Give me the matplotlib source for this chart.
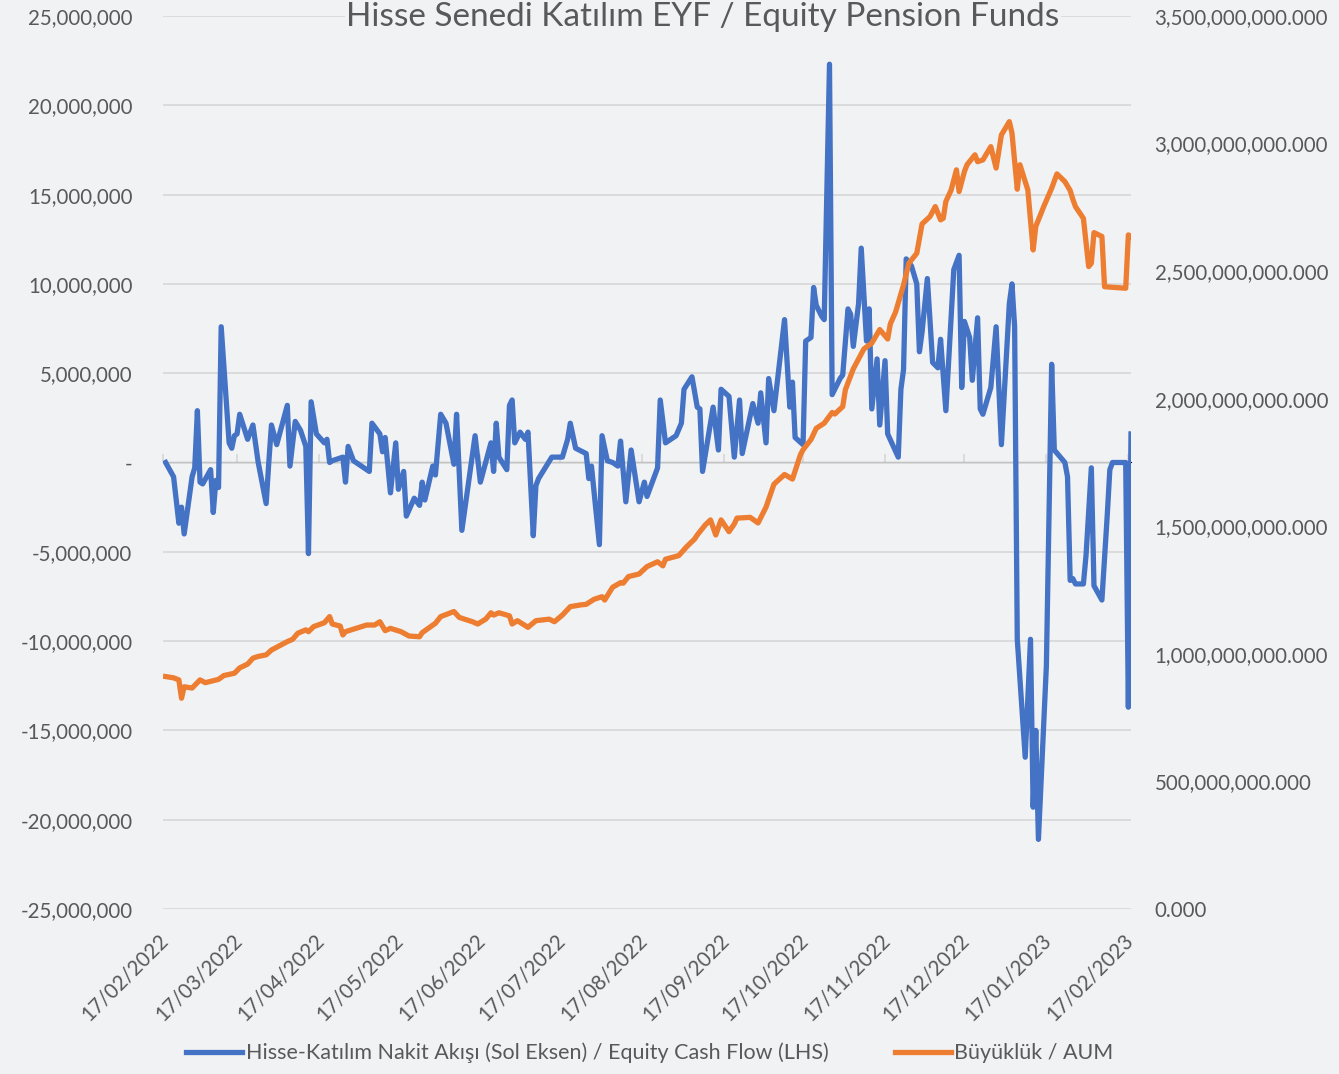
import matplotlib
matplotlib.use("Agg")
import matplotlib.pyplot as plt
import matplotlib.dates as mdates
import matplotlib.transforms as mtransforms
from matplotlib.ticker import FuncFormatter, MultipleLocator, NullFormatter
import pandas as pd
import numpy as np

# daily equity cash flow, million TL (left axis)
cash_dates = [
    "2022-02-18", "2022-02-21", "2022-02-23", "2022-02-24", "2022-02-25", "2022-02-28",
    "2022-03-01", "2022-03-02", "2022-03-03", "2022-03-04", "2022-03-07", "2022-03-08",
    "2022-03-09", "2022-03-10", "2022-03-11", "2022-03-14", "2022-03-15", "2022-03-16",
    "2022-03-17", "2022-03-18", "2022-03-21", "2022-03-23", "2022-03-25", "2022-03-28",
    "2022-03-29", "2022-03-30", "2022-04-01", "2022-04-05", "2022-04-06", "2022-04-08",
    "2022-04-10", "2022-04-12", "2022-04-13", "2022-04-14", "2022-04-16", "2022-04-19",
    "2022-04-20", "2022-04-21", "2022-04-22", "2022-04-26", "2022-04-27", "2022-04-28",
    "2022-04-30", "2022-05-06", "2022-05-07", "2022-05-10", "2022-05-11", "2022-05-12",
    "2022-05-14", "2022-05-16", "2022-05-17", "2022-05-19", "2022-05-20", "2022-05-23",
    "2022-05-25", "2022-05-26", "2022-05-27", "2022-05-30", "2022-05-31", "2022-06-02",
    "2022-06-04", "2022-06-07", "2022-06-08", "2022-06-10", "2022-06-15", "2022-06-17",
    "2022-06-21", "2022-06-22", "2022-06-23", "2022-06-24", "2022-06-27", "2022-06-28",
    "2022-06-29", "2022-06-30", "2022-07-02", "2022-07-04", "2022-07-05", "2022-07-07",
    "2022-07-08", "2022-07-09", "2022-07-14", "2022-07-18", "2022-07-20", "2022-07-21",
    "2022-07-23", "2022-07-27", "2022-07-28", "2022-07-29", "2022-08-01", "2022-08-02",
    "2022-08-04", "2022-08-06", "2022-08-08", "2022-08-09", "2022-08-11", "2022-08-13",
    "2022-08-16", "2022-08-18", "2022-08-19", "2022-08-23", "2022-08-24", "2022-08-26",
    "2022-08-28", "2022-08-30", "2022-09-01", "2022-09-02", "2022-09-05", "2022-09-07",
    "2022-09-08", "2022-09-09", "2022-09-13", "2022-09-15", "2022-09-16", "2022-09-19",
    "2022-09-21", "2022-09-23", "2022-09-24", "2022-09-28", "2022-09-30", "2022-10-01",
    "2022-10-03", "2022-10-04", "2022-10-06", "2022-10-10", "2022-10-12", "2022-10-13",
    "2022-10-14", "2022-10-17", "2022-10-18", "2022-10-20", "2022-10-21", "2022-10-22",
    "2022-10-24", "2022-10-25", "2022-10-27", "2022-10-28", "2022-10-31", "2022-11-01",
    "2022-11-03", "2022-11-04", "2022-11-05", "2022-11-07", "2022-11-08", "2022-11-10",
    "2022-11-11", "2022-11-12", "2022-11-14", "2022-11-15", "2022-11-17", "2022-11-18",
    "2022-11-22", "2022-11-23", "2022-11-24", "2022-11-25", "2022-11-27", "2022-11-29",
    "2022-11-30", "2022-12-01", "2022-12-03", "2022-12-05", "2022-12-07", "2022-12-08",
    "2022-12-10", "2022-12-13", "2022-12-15", "2022-12-16", "2022-12-17", "2022-12-19",
    "2022-12-20", "2022-12-22", "2022-12-23", "2022-12-24", "2022-12-27", "2022-12-29",
    "2022-12-31", "2023-01-03", "2023-01-04", "2023-01-05", "2023-01-06", "2023-01-09",
    "2023-01-11", "2023-01-12", "2023-01-13", "2023-01-14", "2023-01-17", "2023-01-19",
    "2023-01-20", "2023-01-24", "2023-01-25", "2023-01-26", "2023-01-27", "2023-01-28",
    "2023-01-31", "2023-02-01", "2023-02-03", "2023-02-04", "2023-02-07", "2023-02-09",
    "2023-02-10", "2023-02-11", "2023-02-16", "2023-02-17", "2023-02-18",
]
cash_flow_mn = [
    0.0, -0.8, -3.4, -2.5, -4.0, -0.8,
    -0.3, 2.9, -1.1, -1.2, -0.4, -2.8,
    -1.0, -1.4, 7.6, 1.1, 0.8, 1.5,
    1.6, 2.7, 1.3, 2.1, 0.0, -2.3,
    0.0, 2.1, 1.0, 3.2, -0.2, 2.3,
    1.8, 0.9, -5.1, 3.4, 1.6, 1.1,
    1.3, 0.0, 0.1, 0.3, -1.1, 0.9,
    0.1, -0.5, 2.2, 1.6, 0.6, 1.4,
    -1.7, 1.1, -1.5, -0.5, -3.0, -2.0,
    -2.4, -1.1, -2.1, -0.2, -0.7, 2.7,
    2.2, -0.1, 2.7, -3.8, 1.5, -1.1,
    1.1, -0.5, 2.2, 0.3, -0.4, 3.2,
    3.5, 1.1, 1.7, 1.3, 1.7, -4.1,
    -1.3, -0.9, 0.3, 0.3, 1.3, 2.2,
    0.8, 0.5, -0.9, -0.2, -4.6, 1.5,
    0.1, 0.0, -0.2, 1.2, -2.2, 0.7,
    -2.2, -1.1, -1.9, -0.3, 3.5, 1.1,
    1.3, 1.5, 2.2, 4.1, 4.8, 3.1,
    3.0, -0.5, 3.1, 0.7, 4.1, 3.7,
    0.3, 3.5, 0.5, 3.3, 2.2, 3.9,
    1.1, 4.7, 2.9, 8.0, 3.1, 4.5,
    1.4, 1.0, 6.8, 7.0, 9.8, 8.8,
    8.2, 8.0, 22.3, 3.8, 4.7, 4.9,
    8.6, 8.3, 6.5, 8.9, 12.0, 6.8,
    8.6, 3.0, 5.8, 2.1, 5.7, 1.6,
    0.3, 4.1, 5.2, 11.4, 11.0, 10.0,
    6.2, 7.3, 10.3, 5.6, 5.3, 6.9,
    2.9, 10.8, 11.6, 4.2, 7.9, 7.0,
    4.6, 8.1, 3.0, 2.7, 4.2, 7.6,
    1.0, 8.9, 10.0, 7.6, -9.9, -16.5,
    -9.9, -19.3, -15.0, -21.1, -11.4, 5.5,
    0.7, 0.0, -0.8, -6.6, -6.5, -6.8,
    -6.8, -5.2, -0.3, -6.9, -7.7, -3.0,
    -0.4, 0.0, 0.0, -13.7, 1.6,
]

# assets under management, billion (right axis)
aum_dates = [
    "2022-02-18", "2022-02-21", "2022-02-23", "2022-02-24", "2022-02-25", "2022-02-28",
    "2022-03-03", "2022-03-05", "2022-03-10", "2022-03-12", "2022-03-16", "2022-03-18",
    "2022-03-21", "2022-03-23", "2022-03-25", "2022-03-28", "2022-03-30", "2022-04-01",
    "2022-04-05", "2022-04-07", "2022-04-09", "2022-04-12", "2022-04-13", "2022-04-15",
    "2022-04-19", "2022-04-21", "2022-04-22", "2022-04-25", "2022-04-26", "2022-04-27",
    "2022-05-01", "2022-05-05", "2022-05-08", "2022-05-10", "2022-05-12", "2022-05-14",
    "2022-05-18", "2022-05-21", "2022-05-25", "2022-05-26", "2022-05-31", "2022-06-02",
    "2022-06-07", "2022-06-09", "2022-06-11", "2022-06-14", "2022-06-16", "2022-06-19",
    "2022-06-21", "2022-06-22", "2022-06-24", "2022-06-28", "2022-06-29", "2022-07-01",
    "2022-07-05", "2022-07-08", "2022-07-13", "2022-07-15", "2022-07-18", "2022-07-21",
    "2022-07-25", "2022-07-27", "2022-07-30", "2022-08-02", "2022-08-03", "2022-08-06",
    "2022-08-09", "2022-08-10", "2022-08-12", "2022-08-16", "2022-08-19", "2022-08-23",
    "2022-08-25", "2022-08-26", "2022-08-31", "2022-09-03", "2022-09-06", "2022-09-07",
    "2022-09-10", "2022-09-12", "2022-09-14", "2022-09-16", "2022-09-19", "2022-09-21",
    "2022-09-22", "2022-09-27", "2022-09-30", "2022-10-03", "2022-10-06", "2022-10-10",
    "2022-10-13", "2022-10-16", "2022-10-17", "2022-10-20", "2022-10-22", "2022-10-25",
    "2022-10-28", "2022-10-29", "2022-11-01", "2022-11-02", "2022-11-05", "2022-11-09",
    "2022-11-12", "2022-11-15", "2022-11-18", "2022-11-19", "2022-11-21", "2022-11-23",
    "2022-11-24", "2022-11-26", "2022-11-29", "2022-12-01", "2022-12-04", "2022-12-06",
    "2022-12-08", "2022-12-09", "2022-12-10", "2022-12-12", "2022-12-14", "2022-12-15",
    "2022-12-17", "2022-12-18", "2022-12-21", "2022-12-22", "2022-12-24", "2022-12-27",
    "2022-12-29", "2022-12-31", "2023-01-03", "2023-01-04", "2023-01-06", "2023-01-07",
    "2023-01-10", "2023-01-12", "2023-01-13", "2023-01-16", "2023-01-19", "2023-01-21",
    "2023-01-24", "2023-01-26", "2023-01-27", "2023-01-28", "2023-01-31", "2023-02-02",
    "2023-02-03", "2023-02-04", "2023-02-07", "2023-02-08", "2023-02-16", "2023-02-17",
    "2023-02-18",
]
aum_bn = [
    0.911, 0.906, 0.898, 0.826, 0.871, 0.866,
    0.898, 0.887, 0.900, 0.915, 0.924, 0.945,
    0.960, 0.983, 0.990, 0.996, 1.015, 1.026,
    1.048, 1.057, 1.081, 1.094, 1.087, 1.107,
    1.122, 1.146, 1.117, 1.109, 1.074, 1.087,
    1.100, 1.113, 1.113, 1.126, 1.091, 1.100,
    1.087, 1.070, 1.067, 1.083, 1.120, 1.146,
    1.166, 1.143, 1.136, 1.126, 1.117, 1.136,
    1.161, 1.152, 1.161, 1.149, 1.117, 1.130,
    1.104, 1.130, 1.136, 1.126, 1.152, 1.185,
    1.192, 1.194, 1.214, 1.224, 1.211, 1.261,
    1.279, 1.277, 1.303, 1.313, 1.342, 1.361,
    1.345, 1.371, 1.385, 1.420, 1.450, 1.466,
    1.505, 1.525, 1.466, 1.525, 1.479, 1.509,
    1.532, 1.535, 1.513, 1.575, 1.665, 1.703,
    1.685, 1.780, 1.800, 1.840, 1.884, 1.904,
    1.946, 1.940, 1.969, 2.035, 2.117, 2.195,
    2.218, 2.271, 2.234, 2.293, 2.340, 2.410,
    2.446, 2.531, 2.570, 2.685, 2.714, 2.753,
    2.701, 2.707, 2.773, 2.818, 2.897, 2.812,
    2.890, 2.917, 2.956, 2.929, 2.936, 2.988,
    2.904, 3.034, 3.086, 3.041, 2.821, 2.917,
    2.818, 2.583, 2.675, 2.753, 2.825, 2.881,
    2.851, 2.816, 2.782, 2.753, 2.707, 2.518,
    2.531, 2.651, 2.636, 2.439, 2.433, 2.642,
    2.636,
]

title = "Hisse Senedi Katılım EYF / Equity Pension Funds"
cash_label = "Hisse-Katılım Nakit Akışı (Sol Eksen) / Equity Cash Flow (LHS)"
aum_label = "Büyüklük / AUM"

blue = "#4472C4"
orange = "#ED7D31"
text_col = "#595959"
grid_col = "#d9d9d9"
bg = "#f1f2f4"

plt.rcParams["font.family"] = ["Lato", "DejaVu Sans"]

fig = plt.figure(figsize=(13.39, 10.74), dpi=100, facecolor=bg)
ax = fig.add_axes([163 / 1339, 1 - 909 / 1074, (1131 - 163) / 1339, (909 - 16) / 1074])
ax.set_facecolor("none")
ax2 = ax.twinx()

cd = pd.to_datetime(cash_dates)
ad = pd.to_datetime(aum_dates)

l1, = ax.plot(cd, np.array(cash_flow_mn) * 1e6, color=blue, lw=3.8,
              solid_joinstyle="round", label=cash_label)
l2, = ax2.plot(ad, np.array(aum_bn) * 1e9, color=orange, lw=3.8,
               solid_joinstyle="round", label=aum_label)

ax.set_ylim(-25e6, 25e6)
ax2.set_ylim(0, 3.5e9)
ax.yaxis.set_major_locator(MultipleLocator(5e6))
ax2.yaxis.set_major_locator(MultipleLocator(0.5e9))
ax.yaxis.set_major_formatter(FuncFormatter(lambda v, p: "-" if abs(v) < 1 else f"{v:,.0f}"))
ax2.yaxis.set_major_formatter(FuncFormatter(lambda v, p: f"{v:,.3f}"))

ax.set_xlim(pd.Timestamp("2022-02-17"), pd.Timestamp("2023-02-18"))
months = pd.date_range("2022-02-17", "2023-02-17", freq=pd.DateOffset(months=1))
ax.set_xticks(months)
ax.xaxis.set_major_formatter(mdates.DateFormatter("%d/%m/%Y"))

ax.grid(axis="y", color=grid_col, lw=1.3)
ax.set_axisbelow(True)
for a in (ax, ax2):
    for s in a.spines.values():
        s.set_visible(False)

ax.tick_params(axis="y", length=0, pad=22, labelsize=14.8, labelcolor=text_col)
ax2.tick_params(axis="y", length=0, pad=17, labelsize=14.8, labelcolor=text_col)
ax.tick_params(axis="x", length=0, pad=15, labelsize=14.8, labelcolor=text_col)
shift = mtransforms.ScaledTranslation(-5 / 100, 0, fig.dpi_scale_trans)
for lab in ax.get_xticklabels():
    lab.set_rotation(45)
    lab.set_ha("right")
    lab.set_va("top")
    lab.set_rotation_mode("anchor")
    lab.set_transform(lab.get_transform() + shift)

# small tick marks on the zero line
sec = ax.secondary_xaxis(0.5)
sec.set_xticks(months)
sec.xaxis.set_major_formatter(NullFormatter())
sec.tick_params(axis="x", length=6, width=1.3, color=grid_col)
sec.spines["bottom"].set_color(grid_col)
sec.spines["bottom"].set_linewidth(1.3)

fig.text(703 / 1339, 1 - 17 / 1074, title, ha="center", va="center", fontsize=24,
         color=text_col, bbox=dict(facecolor=bg, edgecolor="none", pad=1))

fig.legend(handles=[l1, l2], loc="center", bbox_to_anchor=(650 / 1339, 1 - 1053 / 1074),
           ncol=2, frameon=False, fontsize=15.5, labelcolor=text_col,
           handlelength=2.6, handletextpad=0.15, columnspacing=3.1)

fig.savefig("out.png", dpi=100, facecolor=bg)
